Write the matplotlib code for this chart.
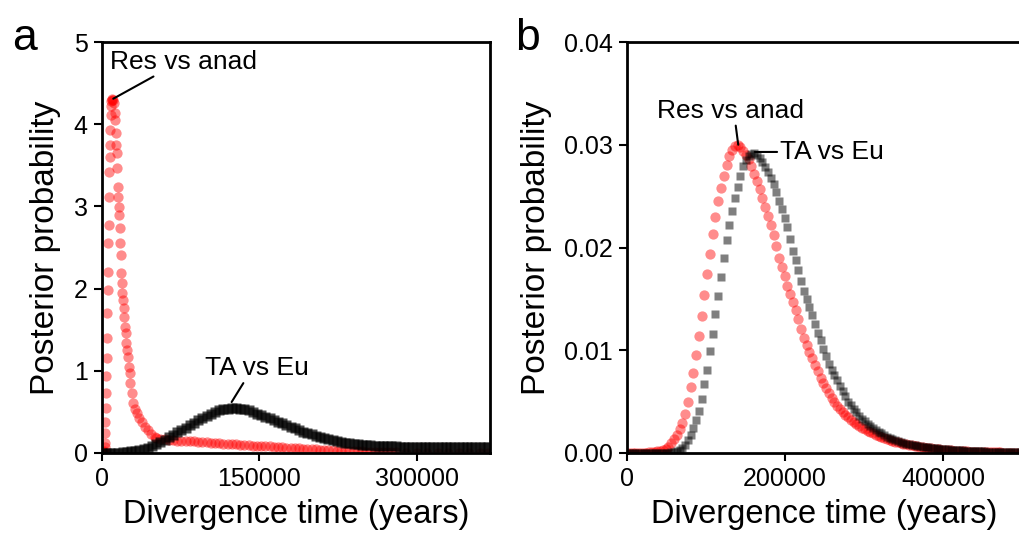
import numpy as np
import matplotlib
matplotlib.use("Agg")
import matplotlib.pyplot as plt
from matplotlib.ticker import FormatStrFormatter

plt.rcParams['font.family'] = ['Liberation Sans', 'DejaVu Sans']

# ---------------- Panel a data ----------------
# Res vs anad (red circles), divergence time in years
a_red_x = [0, 600, 1200, 1800,
           2400, 2700, 3000, 3300, 3600, 3900, 4200, 4500, 4800, 5100, 5400, 5700,
           6000, 6300, 6600, 6900, 7200, 7500, 7800, 8100, 8400, 8700, 9000,
           9600, 10200, 10800,
           11500, 12200, 12800, 13300, 13800, 14200, 14700, 15200, 15700, 16100, 16500,
           17000, 17600, 18200, 18800, 19300, 19800, 20300, 20900, 21500, 22200, 22800,
           23500, 24200, 25000, 25800, 26500, 27000, 28500, 30000, 31500, 33500, 36000,
           38400, 41000, 44000, 47000, 50500,
           52000, 56000, 60000, 64000, 68000, 72000, 76000, 80000, 84000, 88000, 92000,
           96000, 100000, 104000, 108000, 112000, 116000, 120000, 124000, 128000, 132000,
           136000, 140000, 144000, 148000, 152000, 156000, 160000, 164000, 168000, 172000,
           176000, 180000, 184000, 188000, 192000, 196000, 200000, 204000, 208000, 212000,
           216000, 220000, 224000, 228000, 232000, 236000, 240000, 244000, 248000, 252000,
           256000, 260000, 264000, 268000, 272000, 276000, 280000, 290000, 300000, 310000,
           320000, 330000, 340000, 350000, 360000, 368000]
a_red_y = [0.0, 0.0, 0.01, 0.01,
           0.02, 0.07, 0.12, 0.24, 0.38, 0.55, 0.73, 0.94, 1.16, 1.40, 1.70, 1.98,
           2.20, 2.55, 2.77, 3.11, 3.42, 3.60, 3.75, 3.93, 4.11, 4.22, 4.28,
           4.30, 4.31, 4.30,
           4.26, 4.14, 4.05, 3.89, 3.75, 3.65, 3.47, 3.24, 3.11, 2.99, 2.90,
           2.74, 2.55, 2.41, 2.19, 2.07, 1.95, 1.86, 1.76, 1.65, 1.53, 1.46,
           1.34, 1.25, 1.17, 1.05, 0.97, 0.85, 0.73, 0.61, 0.54, 0.49, 0.42,
           0.38, 0.32, 0.28, 0.23, 0.19,
           0.18, 0.17, 0.165, 0.16, 0.155, 0.15, 0.15, 0.145, 0.14, 0.14, 0.135,
           0.13, 0.13, 0.125, 0.12, 0.12, 0.115, 0.11, 0.11, 0.105, 0.10,
           0.10, 0.095, 0.09, 0.09, 0.085, 0.08, 0.08, 0.075, 0.07, 0.07,
           0.065, 0.06, 0.06, 0.055, 0.05, 0.05, 0.045, 0.045, 0.04, 0.04,
           0.035, 0.035, 0.03, 0.03, 0.025, 0.025, 0.02, 0.02, 0.02, 0.015,
           0.015, 0.015, 0.01, 0.01, 0.01, 0.01, 0.01, 0.005, 0.005, 0.005,
           0.0, 0.0, 0.0, 0.0, 0.0, 0.0]

# TA vs Eu (black squares)
a_blk_x = list(range(0, 372000, 4000))
a_blk_y = [0.0, 0.0, 0.0, 0.0, 0.005, 0.01, 0.015, 0.02, 0.03, 0.04,
           0.05, 0.065, 0.085, 0.105, 0.13, 0.16, 0.19, 0.22, 0.25, 0.28,
           0.31, 0.34, 0.37, 0.40, 0.43, 0.455, 0.48, 0.50, 0.52, 0.53,
           0.54, 0.545, 0.545, 0.54, 0.53, 0.52, 0.50, 0.48, 0.46, 0.44,
           0.42, 0.40, 0.38, 0.36, 0.34, 0.32, 0.30, 0.28, 0.26, 0.245,
           0.23, 0.21, 0.195, 0.18, 0.165, 0.155, 0.145, 0.135, 0.127, 0.12,
           0.113, 0.107, 0.102, 0.098, 0.094, 0.091, 0.088, 0.086, 0.084, 0.082,
           0.080, 0.079, 0.078, 0.077, 0.076, 0.075, 0.074, 0.073, 0.073, 0.072,
           0.072, 0.071, 0.071, 0.070, 0.070, 0.070, 0.069, 0.069, 0.069, 0.068,
           0.068, 0.068, 0.067]

# ---------------- Panel b data ----------------
b_x = list(range(0, 504000, 3500))
b_red_y = [0, 0, 0, 0, 0, 0, 0, 0, 0.0001, 0.0001,
           0.0001, 0.0002, 0.0002, 0.0003, 0.0004, 0.0006, 0.0010, 0.0014, 0.0018, 0.0023,
           0.0029, 0.0038, 0.0050, 0.0064, 0.0078, 0.0095, 0.0114, 0.0133, 0.0154, 0.0174,
           0.0194, 0.0213, 0.0230, 0.0245, 0.0258, 0.0270, 0.0280, 0.0289, 0.0295, 0.0299,
           0.0300, 0.0298, 0.0294, 0.0290, 0.0286, 0.0279, 0.0272, 0.0265, 0.0257, 0.0248,
           0.0239, 0.0231, 0.0222, 0.0212, 0.0201, 0.0190, 0.0181, 0.0172, 0.0163, 0.0155,
           0.0147, 0.0139, 0.0130, 0.0121, 0.0112, 0.0105, 0.0098, 0.0092, 0.0086, 0.0080,
           0.0073, 0.0068, 0.0063, 0.0058, 0.0054, 0.0050, 0.0046, 0.0043, 0.0040, 0.0037,
           0.0035, 0.0032, 0.0030, 0.0028, 0.0026, 0.0024, 0.0023, 0.0021, 0.0020, 0.0019,
           0.0018, 0.0017, 0.0016, 0.0015, 0.0014, 0.0013, 0.0012, 0.0011, 0.0011, 0.0010,
           0.0009, 0.0009, 0.0008, 0.0008, 0.0007, 0.0007, 0.0006, 0.0006, 0.0005, 0.0005,
           0.0005, 0.0004, 0.0004, 0.0004, 0.0003, 0.0003, 0.0003, 0.0003, 0.0002, 0.0002,
           0.0002, 0.0002, 0.0002, 0.0002, 0.0001, 0.0001, 0.0001, 0.0001, 0.0001, 0.0001,
           0.0001, 0.0001, 0.0001, 0.0001, 0.0001, 0.0001, 0.0, 0.0, 0.0, 0.0,
           0.0, 0.0, 0.0, 0.0]
b_blk_y = [0, 0, 0, 0, 0, 0, 0, 0, 0, 0,
           0, 0, 0, 0, 0, 0, 0.0001, 0.0001, 0.0002, 0.0003,
           0.0005, 0.0008, 0.0013, 0.0018, 0.0024, 0.0032, 0.0041, 0.0053, 0.0067, 0.0081,
           0.0099, 0.0116, 0.0135, 0.0153, 0.0171, 0.0190, 0.0207, 0.0222, 0.0236, 0.0248,
           0.0259, 0.0270, 0.0279, 0.0285, 0.0289, 0.0291, 0.0292, 0.0290, 0.0287, 0.0283,
           0.0278, 0.0273, 0.0268, 0.0262, 0.0254, 0.0245, 0.0237, 0.0229, 0.0220, 0.0208,
           0.0197, 0.0188, 0.0178, 0.0167, 0.0158, 0.0150, 0.0142, 0.0134, 0.0126, 0.0117,
           0.0110, 0.0101, 0.0094, 0.0087, 0.0081, 0.0076, 0.0071, 0.0065, 0.0060, 0.0055,
           0.0050, 0.0047, 0.0043, 0.0040, 0.0036, 0.0033, 0.0031, 0.0028, 0.0026, 0.0024,
           0.0022, 0.0020, 0.0019, 0.0018, 0.0016, 0.0015, 0.0014, 0.0013, 0.0012, 0.0011,
           0.0010, 0.0009, 0.0009, 0.0008, 0.0008, 0.0007, 0.0007, 0.0006, 0.0006, 0.0006,
           0.0005, 0.0005, 0.0005, 0.0004, 0.0004, 0.0004, 0.0004, 0.0003, 0.0003, 0.0003,
           0.0003, 0.0003, 0.0002, 0.0002, 0.0002, 0.0002, 0.0002, 0.0002, 0.0002, 0.0002,
           0.0001, 0.0001, 0.0001, 0.0001, 0.0001, 0.0001, 0.0001, 0.0001, 0.0001, 0.0001,
           0.0001, 0.0001, 0.0001, 0.0001]

a_xticks = [0, 150000, 300000]
a_yticks = [0, 1, 2, 3, 4, 5]
b_xticks = [0, 200000, 400000]
b_yticks = [0.0, 0.01, 0.02, 0.03, 0.04]
xlabel = "Divergence time (years)"
ylabel = "Posterior probability"
series_names = ["Res vs anad", "TA vs Eu"]

# ---------------- Figure ----------------
fig = plt.figure(figsize=(10.2, 5.34), dpi=100)
axa = fig.add_axes([101.7 / 1020, 81 / 534, 388 / 1020, 411 / 534])
axb = fig.add_axes([627 / 1020, 81 / 534, 395 / 1020, 411 / 534])

red_kw = dict(ls='none', marker='o', ms=7.4, mfc='red', mec='none', alpha=0.45)
blk_a_kw = dict(ls='none', marker='s', ms=7.6, mfc='black', mec='none', alpha=0.7)
blk_b_kw = dict(ls='none', marker='s', ms=6.2, mfc='black', mec='none', alpha=0.5)

axa.plot(a_red_x, a_red_y, **red_kw)
axa.plot(a_blk_x, a_blk_y, **blk_a_kw)
axb.plot(b_x[:len(b_red_y)], b_red_y, **red_kw)
axb.plot(b_x[:len(b_blk_y)], b_blk_y, **blk_b_kw)

axa.set_xlim(0, 369700)
axa.set_ylim(0, 5)
axb.set_xlim(0, 500000)
axb.set_ylim(0, 0.04)

for ax, xt, yt in ((axa, a_xticks, a_yticks), (axb, b_xticks, b_yticks)):
    ax.set_xticks(xt)
    ax.set_yticks(yt)
    ax.tick_params(direction='out', length=6, width=1.5, labelsize=18, pad=4,
                   top=False, right=False)
    for s in ax.spines.values():
        s.set_linewidth(2.0)
    ax.set_xlabel(xlabel, fontsize=23.5, labelpad=6)
    ax.set_ylabel(ylabel, fontsize=24, labelpad=9)
axb.yaxis.set_major_formatter(FormatStrFormatter('%.2f'))

line_kw = dict(arrowstyle='-', color='black', lw=1.5, shrinkA=0, shrinkB=0)

axa.annotate(series_names[0], xy=(11000, 4.31), xytext=(7900, 4.76),
             ha='left', va='center', fontsize=19,
             arrowprops=dict(relpos=(0.33, 0.0), **line_kw))
axa.annotate(series_names[1], xy=(123800, 0.62), xytext=(98000, 1.03),
             ha='left', va='center', fontsize=19,
             arrowprops=dict(relpos=(0.39, 0.0), **line_kw))
axb.annotate(series_names[0], xy=(140800, 0.0300), xytext=(131600, 0.0333),
             ha='center', va='center', fontsize=19,
             arrowprops=dict(relpos=(0.53, 0.0), **line_kw))
axb.annotate(series_names[1], xy=(161900, 0.0293), xytext=(193500, 0.0293),
             ha='left', va='center', fontsize=19,
             arrowprops=dict(relpos=(0.0, 0.5), **line_kw))

fig.text(12 / 1020, 1 - 50 / 534, 'a', fontsize=32, ha='left', va='baseline')
fig.text(515 / 1020, 1 - 50 / 534, 'b', fontsize=32, ha='left', va='baseline')

fig.savefig('out.png', dpi=100)
